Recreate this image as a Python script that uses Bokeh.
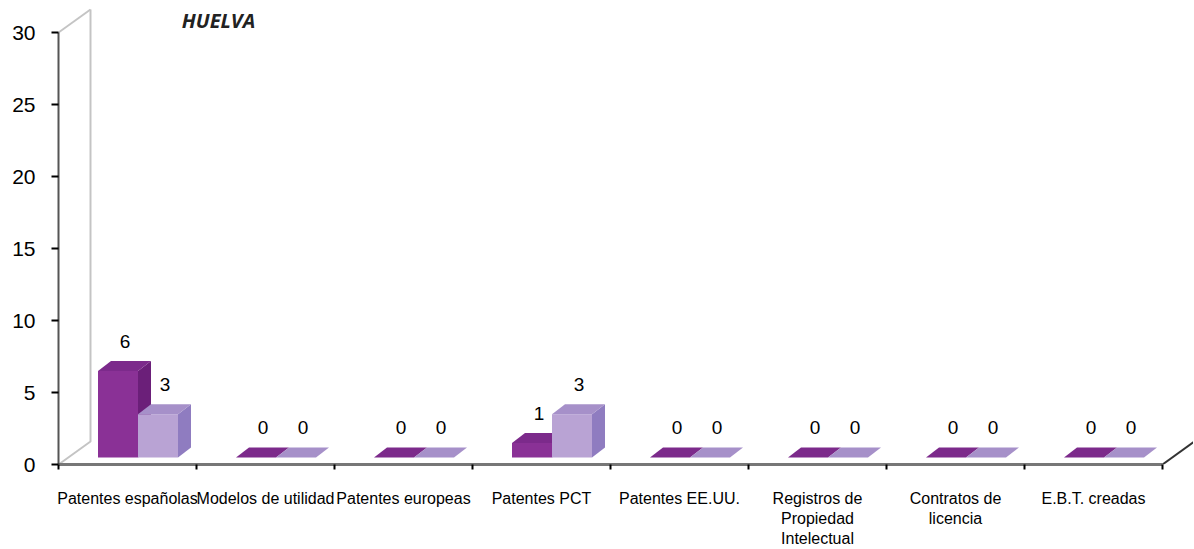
from bokeh.plotting import figure
from bokeh.models import Range1d, FixedTicker, Label
from bokeh.embed import file_html
from bokeh.resources import INLINE
from bokeh.core.properties import value

# ---- data ----
categories = ["Patentes españolas", "Modelos de utilidad", "Patentes europeas",
              "Patentes PCT", "Patentes EE.UU.", "Registros de\nPropiedad\nIntelectual",
              "Contratos de\nlicencia", "E.B.T. creadas"]
series_a = [6, 0, 0, 1, 0, 0, 0, 0]
series_b = [3, 0, 0, 3, 0, 0, 0, 0]
y_ticks = [0, 5, 10, 15, 20, 25, 30]
title_text = "HUELVA"

# ---- geometry (pixels -> data units) ----
FW, FH = 1135, 456
PX_X = 138.0   # pixels per category
PX_Y = 14.4    # pixels per unit
ux, uy = 1.0 / PX_X, 1.0 / PX_Y
n = len(categories)
ymax = y_ticks[-1]

p = figure(frame_width=FW, frame_height=FH, output_backend="svg", toolbar_location=None,
           x_range=Range1d(-0.5, -0.5 + FW * ux), y_range=Range1d(0, FH * uy),
           min_border_left=58, min_border_right=0, min_border_top=8, min_border_bottom=84,
           background_fill_color="white", border_fill_color="white")
p.outline_line_color = None
p.xgrid.visible = False
p.ygrid.visible = False

# back walls (3D frame)
wdx, wdy = 32 * ux, 23 * uy
x0 = -0.5
x1 = n - 0.5
p.line([x0, x0 + wdx, x0 + wdx], [0, wdy, ymax + wdy], line_color="#c4c4c4", line_width=2)
p.line([x0, x0 + wdx], [ymax, ymax + wdy], line_color="#c4c4c4", line_width=2)
p.line([x1 + wdx, x1 + wdx], [wdy, ymax + wdy], line_color="#c4c4c4", line_width=2)
p.line([x1, x1 + wdx], [0, wdy], line_color="#333333", line_width=2)

# bars
bw = 40 * ux
off = 10.5 * ux
fy = 7 * uy
ddx, ddy = 13 * ux, 10 * uy

styles = [
    dict(front="#8a3196", top="#7c2a8b", side="#6b1f79"),
    dict(front="#b9a3d4", top="#a690c9", side="#8f7cc0"),
]
for s, vals in enumerate([series_a, series_b]):
    st = styles[s]
    lefts = [i + off - bw + s * bw for i in range(n)]
    rights = [l + bw for l in lefts]
    tops = [fy + v for v in vals]
    p.quad(left=lefts, right=rights, bottom=[fy] * n, top=tops,
           fill_color=st["front"], line_color=None)
    side_xs = [[r, r + ddx, r + ddx, r] for r in rights]
    side_ys = [[fy, fy + ddy, t + ddy, t] for t in tops]
    p.patches(side_xs, side_ys, fill_color=st["side"], line_color=None)
    top_xs = [[l, l + ddx, r + ddx, r] for l, r in zip(lefts, rights)]
    top_ys = [[t, t + ddy, t + ddy, t] for t in tops]
    p.patches(top_xs, top_ys, fill_color=st["top"], line_color=None)
    lab_x = [(l + r) / 2 + 7 * ux for l, r in zip(lefts, rights)]
    lab_y = [t + ddy + 20 * uy for t in tops]
    p.text(x=lab_x, y=lab_y, text=[str(v) for v in vals],
           text_font=value("Liberation Sans"), text_font_size="19px",
           text_align="center", text_baseline="middle", text_color="black")

# title
p.add_layout(Label(x=-0.5 + 160 * ux, y=444 * uy, text=title_text,
                   text_font="Open Sans", text_font_style="bold italic",
                   text_font_size="20px", text_color="#222222",
                   text_align="center", text_baseline="alphabetic"))

# x axis
p.xaxis.ticker = FixedTicker(ticks=list(range(n)), minor_ticks=[i - 0.5 for i in range(n + 1)])
p.xaxis.major_label_overrides = {i: c for i, c in enumerate(categories)}
p.xaxis.bounds = (x0, x1)
p.xaxis.axis_line_color = "#777777"
p.xaxis.axis_line_width = 3
p.xaxis.major_tick_out = 0
p.xaxis.major_tick_in = 0
p.xaxis.major_tick_line_color = None
p.xaxis.minor_tick_out = 5
p.xaxis.minor_tick_in = 0
p.xaxis.minor_tick_line_color = "black"
p.xaxis.minor_tick_line_width = 2
p.xaxis.major_label_standoff = 20
p.xaxis.major_label_text_font = "Liberation Sans"
p.xaxis.major_label_text_font_size = "16px"
p.xaxis.major_label_text_color = "black"

# y axis
p.yaxis.ticker = FixedTicker(ticks=y_ticks, minor_ticks=[])
p.yaxis.bounds = (0, ymax)
p.yaxis.axis_line_color = "#555555"
p.yaxis.axis_line_width = 2
p.yaxis.major_tick_out = 7
p.yaxis.major_tick_in = 0
p.yaxis.major_tick_line_color = "black"
p.yaxis.major_tick_line_width = 2
p.yaxis.minor_tick_out = 0
p.yaxis.minor_tick_in = 0
p.yaxis.major_label_standoff = 16
p.yaxis.major_label_text_font = "Liberation Sans"
p.yaxis.major_label_text_font_size = "21px"
p.yaxis.major_label_text_color = "black"

open("out.html", "w").write(file_html(p, INLINE))
